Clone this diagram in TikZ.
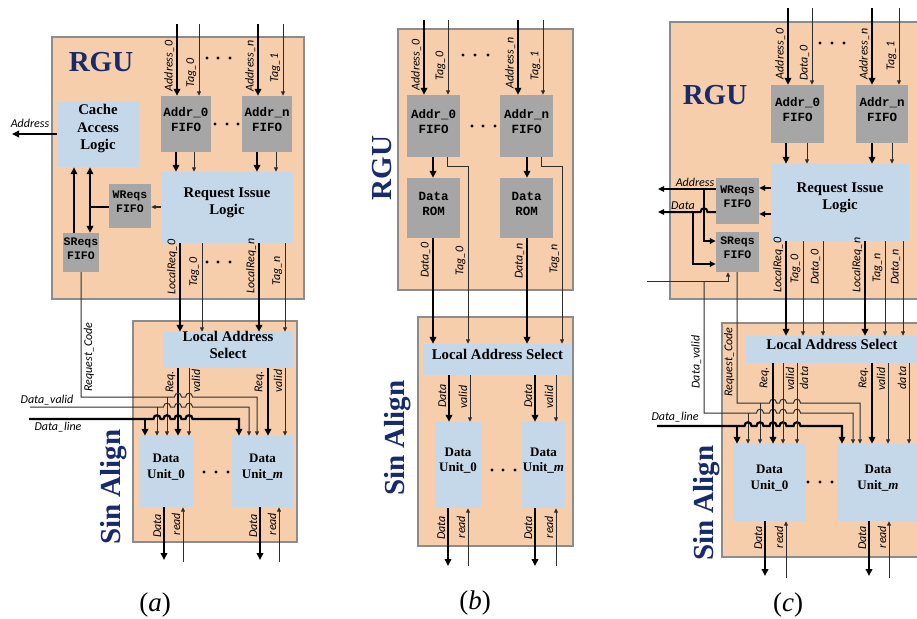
\documentclass[tikz,border=0pt]{standalone}
\usepackage{fontspec}
\setmainfont{Liberation Serif}
\newfontfamily\lblfont{Carlito}
\newfontfamily\cmono{Liberation Mono}
\usetikzlibrary{arrows.meta,fit}
\definecolor{peach}{RGB}{247,206,172}
\definecolor{lblue}{RGB}{197,216,234}
\definecolor{fgray}{RGB}{166,166,166}
\definecolor{navy}{RGB}{22,42,108}
\definecolor{bord}{RGB}{140,140,140}
\definecolor{thinc}{RGB}{45,45,45}
\tikzset{
 panel/.style={fill=peach, draw=bord, line width=1.2pt, inner sep=0pt},
 blk/.style={fill=lblue, inner sep=0pt, align=center, font=\bfseries\fontsize{14.8}{17.5}\selectfont},
 dub/.style={fill=lblue, inner sep=0pt, align=center, font=\bfseries\fontsize{13}{15.5}\selectfont},
 fifo/.style={fill=fgray, inner sep=0pt, align=center, font=\cmono\bfseries\fontsize{12.5}{15}\selectfont},
 sfifo/.style={fill=fgray, inner sep=0pt, align=center, font=\cmono\bfseries\fontsize{11.5}{14}\selectfont},
 ttl/.style={text=navy, font=\bfseries\fontsize{29}{29}\selectfont, inner sep=0pt},
 lab/.style={font=\lblfont\itshape\fontsize{12}{12}\selectfont, inner sep=1pt},
 capt/.style={font=\fontsize{27}{27}\selectfont, inner sep=0pt},
 thk/.style={line width=2.2pt, -{Triangle[length=7pt,width=6.5pt]}},
 thk2/.style={line width=2pt, -{Triangle[length=6pt,width=5.5pt]}},
 thn/.style={line width=1pt, draw=thinc, -{Triangle[length=4.5pt,width=4pt]}},
}
\newcounter{nl}
\newcommand\lv[3]{\stepcounter{nl}\node[lab,rotate=90,anchor=south] (lbl\number\value{nl}) at ({#1-0.5},#2) {#3};}
\newcommand\lvr[3]{\stepcounter{nl}\node[lab,rotate=90,anchor=north] (lbl\number\value{nl}) at ({#1+0.5},#2) {#3};}
\newcommand\lh[3]{\stepcounter{nl}\node[lab,anchor=base] (lbl\number\value{nl}) at (#1,#2) {#3};}
\newcommand\vc[4]{\draw[#1] (#2,0 |- #3) -- (#2,0 |- #4);}
\newcommand\hop[2]{-- ({#1-3.5},#2) .. controls ({#1-3.5},{#2-5}) and ({#1+3.5},{#2-5}) .. ({#1+3.5},#2)}
\newcommand\dts[4]{\fill (#1,#4) circle[radius=1.7] (#2,#4) circle[radius=1.7] (#3,#4) circle[radius=1.7];}
\begin{document}
\begin{tikzpicture}[x=1pt,y=-1pt]
\useasboundingbox (0,0) rectangle (917,618);
\clip (0,0) rectangle (917,618);
%%%%%%%%%%%%%%%% panel (a)
\node[panel, fit={(52,37)(304,299)}] (rgua) {};
\node[panel, fit={(133,321)(297,542)}] (sina) {};
\node[ttl] (trgua) at (101,62) {RGU};
\node[ttl, rotate=90] (tsina) at (114,487) {Sin Align};
\node[blk, fit={(57,101)(139,167)}] (cala) {Cache\\Access\\Logic};
\node[fifo, fit={(161,96)(211,152)}] (fa0) {Addr\_0\\FIFO};
\node[fifo, fit={(242,96)(292,152)}] (fan) {Addr\_n\\FIFO};
\node[blk, fit={(161,172)(293,243)}] (rila) {Request Issue\\Logic};
\node[sfifo, fit={(109,184)(151,228)}] (wra) {WReqs\\FIFO};
\node[sfifo, fit={(63,233)(99,272)}] (sra) {SReqs\\FIFO};
\node[blk, fit={(163,332)(293,368)}] (lasa) {Local Address\\Select};
\node[dub, fit={(139,436)(193,507)}] (dua0) {Data\\Unit\_0};
\node[dub, fit={(232,436)(293,507)}] (duam) {Data\\Unit\_\textit{m}};
% inputs
\vc{thk}{177}{0,24}{fa0.north}
\vc{thn}{199}{0,24}{fa0.north}
\vc{thk}{258}{0,24}{fan.north}
\vc{thn}{283}{0,24}{fan.north}
\vc{thk}{176}{fa0.south}{rila.north}
\vc{thn}{194}{fa0.south}{rila.north}
\vc{thk}{257}{fan.south}{rila.north}
\vc{thn}{276}{fan.south}{rila.north}
\draw[thk] (cala.west) -- (12,134);
\draw[thn, line width=1.2pt] (rila.west |- 0,207) -- (wra.east |- 0,207);
\draw[line width=2.2pt] (wra.west |- 0,207) -- (90,207);
\draw[line width=2.2pt, {Triangle[length=7pt,width=6.5pt]}-{Triangle[length=7pt,width=6.5pt]}] (90,0 |- cala.south) -- (90,0 |- sra.north);
\vc{thk}{74}{sra.north}{cala.south}
% RIL outputs
\vc{thk}{180}{rila.south}{lasa.north}
\vc{thn}{202}{rila.south}{lasa.north}
\vc{thk}{259}{rila.south}{lasa.north}
\vc{thn}{285}{rila.south}{lasa.north}
% LAS outputs
\vc{thk}{178}{lasa.south}{dua0.north}
\vc{thn}{189}{lasa.south}{dua0.north}
\vc{thk}{268}{lasa.south}{duam.north}
\vc{thn}{285}{lasa.south}{duam.north}
% Request_Code
\draw[thn] (81,0 |- sra.south) -- (81,397) \hop{178}{397} \hop{189}{397} -- (257,397) -- (257,0 |- duam.north);
\draw[thn] (167,397) -- (167,0 |- dua0.north);
% Data_valid
\draw[thn] (30,407) \hop{167}{407} \hop{178}{407} \hop{189}{407} -- (249,407) -- (249,0 |- duam.north);
\draw[thn] (157,407) -- (157,0 |- dua0.north);
% Data_line
\draw[thk] (29,419) \hop{157}{419} \hop{167}{419} \hop{178}{419} \hop{189}{419} -- (239,419) -- (239,0 |- duam.north);
\draw[thk] (145,419) -- (145,0 |- dua0.north);
% DU outputs
\vc{thk}{164}{dua0.south}{0,560}
\draw[thn] (183,562) -- (183,0 |- dua0.south);
\vc{thk}{260}{duam.south}{0,560}
\draw[thn] (279,562) -- (279,0 |- duam.south);
% labels
\lh{30}{127}{Address}
\lv{176}{66}{Address\_0}
\lv{198}{73}{Tag\_0}
\lv{257}{66}{Address\_n}
\lv{282}{68}{Tag\_1}
\lv{179}{267}{LocalReq\_0}
\lv{201}{272}{Tag\_0}
\lv{258}{266}{LocalReq\_n}
\lv{284}{271}{Tag\_n}
\lvr{82}{357}{Request\_Code}
\lv{177}{382}{Req.}
\lvr{190}{381}{valid}
\lv{266}{382}{Req.}
\lv{284}{381}{valid}
\lh{47}{403}{Data\_valid}
\lh{58}{430}{Data\_line}
\lv{163}{526}{Data}
\lv{182}{524}{read}
\lv{259}{526}{Data}
\lv{278}{524}{read}
\dts{207}{218}{230}{58}
\dts{215}{227}{238}{124}
\dts{207}{218}{230}{262}
\dts{204}{216}{228}{472}
\node[capt] (capa) at (155,605) {(\textit{a})};
%%%%%%%%%%%%%%%% panel (b)
\node[panel, fit={(398,29)(573,290)}] (rgub) {};
\node[panel, fit={(418,317)(573,546)}] (sinb) {};
\node[ttl, rotate=90] (trgub) at (382,168) {RGU};
\node[ttl, rotate=90] (tsinb) at (398,438) {Sin Align};
\node[fifo, fit={(407,95)(460,157)}] (fb0) {Addr\_0\\FIFO};
\node[fifo, fit={(500,95)(553,157)}] (fbn) {Addr\_n\\FIFO};
\node[fifo, fit={(407,178)(460,238)}] (rb0) {Data\\ROM};
\node[fifo, fit={(500,178)(553,238)}] (rbn) {Data\\ROM};
\node[blk, fit={(423,344)(572,375)}] (lasb) {Local Address Select};
\node[dub, fit={(435,422)(481,508)}] (dub0) {Data\\Unit\_0};
\node[dub, fit={(522,422)(565,508)}] (dubm) {Data\\Unit\_\textit{m}};
\vc{thk}{424}{0,20}{fb0.north}
\vc{thn}{448}{0,20}{fb0.north}
\vc{thk}{518}{0,20}{fbn.north}
\vc{thn}{543}{0,20}{fbn.north}
\vc{thk}{433}{fb0.south}{rb0.north}
\draw[thn] (447,0 |- fb0.south) -- (447,166) -- (468,166) -- (468,0 |- lasb.north);
\vc{thk}{527}{fbn.south}{rbn.north}
\draw[thn] (541,0 |- fbn.south) -- (541,166) -- (562,166) -- (562,0 |- lasb.north);
\vc{thk}{433}{rb0.south}{lasb.north}
\vc{thk}{527}{rbn.south}{lasb.north}
\vc{thk}{449}{lasb.south}{dub0.north}
\vc{thn}{470}{lasb.south}{dub0.north}
\vc{thk}{535}{lasb.south}{dubm.north}
\vc{thn}{556}{lasb.south}{dubm.north}
\vc{thk}{448}{dub0.south}{0,566}
\draw[thn] (468,566) -- (468,0 |- dub0.south);
\vc{thk}{535}{dubm.south}{0,566}
\draw[thn] (556,566) -- (556,0 |- dubm.south);
\lv{423}{65}{Address\_0}
\lv{447}{66}{Tag\_0}
\lv{517}{63}{Address\_n}
\lv{542}{66}{Tag\_1}
\lv{432}{260}{Data\_0}
\lv{467}{261}{Tag\_0}
\lv{526}{261}{Data\_n}
\lv{561}{259}{Tag\_n}
\lv{448}{396}{Data}
\lv{469}{397}{valid}
\lv{534}{396}{Data}
\lv{555}{397}{valid}
\lv{447}{528}{Data}
\lv{467}{527}{read}
\lv{534}{528}{Data}
\lv{555}{527}{read}
\dts{463}{475}{488}{55}
\dts{472}{483}{495}{126}
\dts{492}{503}{515}{470}
\node[capt] (capb) at (475,603) {(\textit{b})};
%%%%%%%%%%%%%%%% panel (c)
\node[panel, fit={(670,22)(930,299)}] (rguc) {};
\node[panel, fit={(722,323)(930,557)}] (sinc) {};
\node[ttl] (trguc) at (715,95) {RGU};
\node[ttl, rotate=90] (tsinc) at (707,503) {Sin Align};
\node[fifo, fit={(771,85)(824,143)}] (fc0) {Addr\_0\\FIFO};
\node[fifo, fit={(856,85)(908,143)}] (fcn) {Addr\_n\\FIFO};
\node[blk, fit={(771,164)(909,241)}] (rilc) {Request Issue\\Logic};
\node[sfifo, fit={(716,178)(759,224)}] (wrc) {WReqs\\FIFO};
\node[sfifo, fit={(716,232)(759,272)}] (src) {SReqs\\FIFO};
\node[blk, fit={(746,336)(918,363)}] (lasc) {Local Address Select};
\node[dub, fit={(733,444)(806,521)}] (duc0) {Data\\Unit\_0};
\node[dub, fit={(837,444)(919,521)}] (ducm) {Data\\Unit\_\textit{m}};
\vc{thk}{788}{0,8}{fc0.north}
\vc{thn}{812}{0,8}{fc0.north}
\vc{thk}{872}{0,8}{fcn.north}
\vc{thn}{899}{0,8}{fcn.north}
\vc{thk}{786}{fc0.south}{rilc.north}
\vc{thn}{807}{fc0.south}{rilc.north}
\vc{thk}{872}{fcn.south}{rilc.north}
\vc{thn}{892}{fcn.south}{rilc.north}
\draw[thk2] (rilc.west |- 0,188) -- (wrc.east |- 0,188);
\draw[thk2] (rilc.west |- 0,214) -- (wrc.east |- 0,214);
\draw[thk2] (wrc.west |- 0,189) -- (658,189);
\draw[thk2] (704,189) -- (704,241) -- (src.west |- 0,241);
\draw[line width=2pt, {Triangle[length=6pt,width=5.5pt]}-] (658,212) \hop{704}{212} -- (wrc.west |- 0,212);
\draw[thk2] (693,212) -- (693,264) -- (src.west |- 0,264);
% Data_valid
\draw[thn] (647,281) -- (728,281) -- (728,0 |- src.south);
\draw[thn] (704,281) -- (704,413) \hop{760}{413} \hop{773}{413} \hop{783}{413} \hop{797}{413} -- (853,413) -- (853,0 |- ducm.north);
\draw[thn] (748,413) -- (748,0 |- duc0.north);
% Request_Code
\draw[thn] (737,0 |- src.south) -- (737,403) \hop{773}{403} \hop{783}{403} \hop{797}{403} -- (860,403) -- (860,0 |- ducm.north);
\draw[thn] (760,403) -- (760,0 |- duc0.north);
% Data_line
\draw[thk] (657,426) \hop{748}{426} \hop{760}{426} \hop{773}{426} \hop{783}{426} \hop{797}{426} -- (842,426) -- (842,0 |- ducm.north);
\draw[thk] (737,426) -- (737,0 |- duc0.north);
% RIL outputs
\vc{thk}{786}{rilc.south}{lasc.north}
\vc{thn}{803}{rilc.south}{lasc.north}
\vc{thn}{823}{rilc.south}{lasc.north}
\vc{thk}{865}{rilc.south}{lasc.north}
\vc{thn}{885}{rilc.south}{lasc.north}
\vc{thn}{903}{rilc.south}{lasc.north}
% LAS outputs
\vc{thk}{773}{lasc.south}{duc0.north}
\vc{thn}{783}{lasc.south}{duc0.north}
\vc{thn}{797}{lasc.south}{duc0.north}
\vc{thk}{872}{lasc.south}{ducm.north}
\vc{thn}{888}{lasc.south}{ducm.north}
\vc{thn}{909}{lasc.south}{ducm.north}
% DU outputs
\vc{thk}{765}{duc0.south}{0,576}
\draw[thn] (786,578) -- (786,0 |- duc0.south);
\vc{thk}{869}{ducm.south}{0,576}
\draw[thn] (889,578) -- (889,0 |- ducm.south);
% labels
\lv{787}{54}{Address\_0}
\lv{811}{63}{Data\_0}
\lv{871}{54}{Address\_n}
\lv{898}{56}{Tag\_1}
\lv{785}{265}{LocalReq\_0}
\lv{802}{269}{Tag\_0}
\lv{822}{267}{Data\_0}
\lv{864}{265}{LocalReq\_n}
\lv{884}{268}{Tag\_n}
\lv{902}{267}{Data\_n}
\lh{695}{186}{Address}
\lh{683}{209}{Data}
\lv{703}{362}{Data\_valid}
\lv{736}{362}{Request\_Code}
\lh{675}{420}{Data\_line}
\lv{771}{378}{Req.}
\lvr{784}{379}{valid}
\lvr{798}{378}{data}
\lv{870}{378}{Req.}
\lv{887}{379}{valid}
\lv{908}{378}{data}
\lv{764}{538}{Data}
\lv{785}{537}{read}
\lv{868}{538}{Data}
\lv{888}{537}{read}
\dts{820}{832}{844}{43}
\dts{808}{820}{832}{482}
\node[capt] (capc) at (788,605) {(\textit{c})};
\end{tikzpicture}
\end{document}
